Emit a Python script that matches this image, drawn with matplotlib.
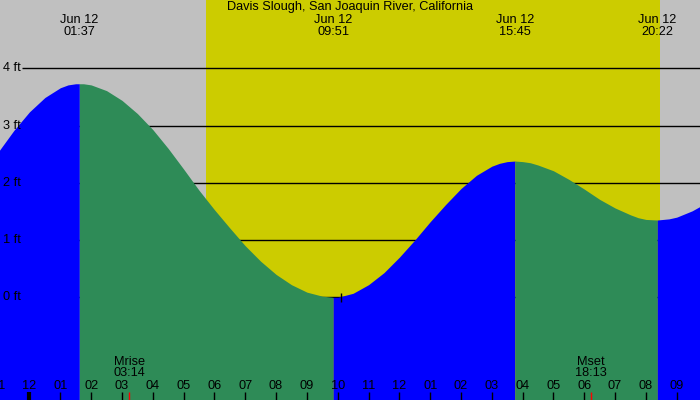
import numpy as np
import matplotlib
matplotlib.use("Agg")
import matplotlib.pyplot as plt

title = "Davis Slough, San Joaquin River, California"

# tide curve (hours after midnight Jun 12, feet)
tide_hours = [-1.0, -0.5, 0.0, 0.5, 1.0, 1.25, 1.5, 1.617, 1.75, 2.0, 2.5, 3.0, 3.5, 4.0, 4.5, 5.0,
              5.5, 6.0, 6.5, 7.0, 7.5, 8.0, 8.5, 9.0, 9.5, 9.85, 10.0, 10.5, 11.0, 11.5,
              12.0, 12.5, 13.0, 13.5, 14.0, 14.5, 15.0, 15.25, 15.5, 15.75, 16.0, 16.25, 16.5, 17.0,
              17.5, 18.0, 18.5, 19.0, 19.5, 19.75, 20.0, 20.367, 20.75, 21.0, 21.5, 22.0]
tide_ft = [2.55, 2.92, 3.24, 3.49, 3.66, 3.71, 3.73, 3.73, 3.73, 3.71, 3.61, 3.44, 3.21, 2.93, 2.60, 2.24,
           1.87, 1.53, 1.21, 0.90, 0.63, 0.40, 0.22, 0.09, 0.02, 0.0, 0.0, 0.07, 0.22, 0.43,
           0.70, 1.00, 1.32, 1.62, 1.90, 2.13, 2.29, 2.34, 2.37, 2.38, 2.37, 2.35, 2.31, 2.21,
           2.06, 1.89, 1.71, 1.56, 1.44, 1.39, 1.36, 1.35, 1.37, 1.40, 1.51, 1.66]

# high / low tides
ext_labels = ["01:37", "09:51", "15:45", "20:22"]
ext_dates = ["Jun 12", "Jun 12", "Jun 12", "Jun 12"]

# moon rise / set
moon_names = ["Mrise", "Mset"]
moon_labels = ["03:14", "18:13"]

sunrise = "05:44"
sunset = "20:27"

ft_levels = [0, 1, 2, 3, 4]
hour_ticks = list(range(-1, 22))


def to_hours(s):
    h, m = s.split(":")
    return int(h) + int(m) / 60.0


fig = plt.figure(figsize=(7, 4), dpi=100)
ax = fig.add_axes([0, 0, 1, 1])
ax.set_axis_off()
x0, x1 = -0.957, 21.755
y0, y1 = -1.794, 5.193
ax.set_xlim(x0, x1)
ax.set_ylim(y0, y1)

font = dict(family="Liberation Sans", fontsize=9.2, color="black")

# night / day background
ax.axvspan(x0, x1, color="#c0c0c0", lw=0, zorder=0)
ax.axvspan(to_hours(sunrise), to_hours(sunset), color="#cccc00", lw=0, zorder=0.5)

# grid lines behind the water
ax.hlines(ft_levels, 0.031, 1, transform=ax.get_yaxis_transform(), color="black", lw=1, zorder=1)

# water, blue when rising and green when falling
hours = np.array(tide_hours)
ft = np.array(tide_ft)
ext_hours = [to_hours(s) for s in ext_labels]
bounds = [hours[0]] + ext_hours + [hours[-1]]
for a, b in zip(bounds[:-1], bounds[1:]):
    mask = (hours >= a - 0.01) & (hours <= b + 0.01)
    rising = ft[mask][-1] > ft[mask][0]
    ax.fill_between(hours[mask], y0 - 1, ft[mask], color="#0000ff" if rising else "#2e8b57",
                    lw=0, zorder=2)

ax.vlines(10.1, -0.08, 0.08, color="black", lw=1, zorder=3)

# labels
ax.text(0.5, 0.982, title, transform=ax.transAxes, ha="center", va="center", **font)
tr = ax.get_xaxis_transform()
for h, d, s in zip(ext_hours, ext_dates, ext_labels):
    ax.text(h, 0.951, d, transform=tr, ha="center", va="center", **font)
    ax.text(h, 0.921, s, transform=tr, ha="center", va="center", **font)

for lvl in ft_levels:
    ax.text(0.004, lvl, f"{lvl} ft", transform=ax.get_yaxis_transform(), ha="left",
            va="center", zorder=4, **font)

for h in hour_ticks:
    lab = f"{(h % 12) or 12:02d}"
    ax.text(h, 0.036, lab, transform=tr, ha="center", va="center", zorder=4, **font)
    ax.vlines(h, 0, 0.02, transform=tr, color="black", lw=3 if h == 0 else 1, zorder=4)

for name, s in zip(moon_names, moon_labels):
    h = to_hours(s)
    ax.text(h, 0.096, name, transform=tr, ha="center", va="center", zorder=4, **font)
    ax.text(h, 0.067, s, transform=tr, ha="center", va="center", zorder=4, **font)
    ax.vlines(h, 0, 0.02, transform=tr, color="red", lw=1, zorder=4)

fig.savefig("out.png", dpi=100)
